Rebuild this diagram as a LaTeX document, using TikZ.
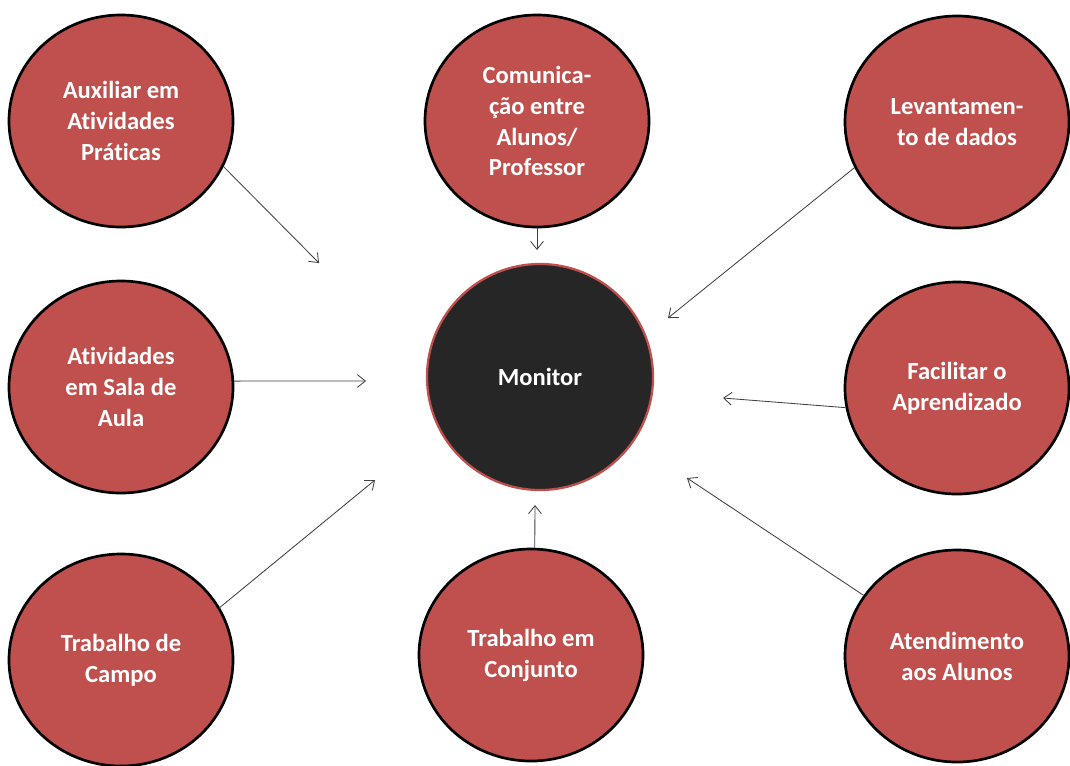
\documentclass[tikz,border=0pt]{standalone}
\usepackage{fontspec}
\usepackage{xcolor}
\usepackage{tikz}
\usetikzlibrary{arrows.meta,shapes.geometric}
\newfontfamily\lblfont{Carlito}[Ligatures=NoCommon]
\definecolor{bubble}{RGB}{192,80,77}
\definecolor{core}{RGB}{38,38,38}
\definecolor{wire}{RGB}{64,64,64}

\begin{document}
\begin{tikzpicture}[
  x=0.025cm, y=-0.025cm,
  task/.style={ellipse, draw=black, line width=1.9pt, fill=bubble, inner sep=0pt, minimum width=5.6cm, minimum height=5.3cm, align=center, text=white, font=\lblfont\bfseries\fontsize{17.5}{22}\selectfont},
  hub/.style={task, draw=bubble, line width=1.6pt, fill=core, minimum width=5.65cm, minimum height=5.65cm},
  arr/.style={-{Straight Barb[length=2mm,width=3.2mm]}, draw=wire, line width=0.6pt}
]
\useasboundingbox (0,0) rectangle (1070,765);

\node[hub] (mon) at (540,377) {Monitor};

\node[task] (aux) at (121,121) {Auxiliar em\\Atividades\\Práticas};
\node[task] (com) at (537,121) {Comunica-\\ção entre\\Alunos/\\Professor};
\node[task] (lev) at (957,122) {Levantamen-\\to de dados};
\node[task] (ativ) at (121,387) {Atividades\\em Sala de\\Aula};
\node[task] (fac) at (957,388) {Facilitar o\\Aprendizado};
\node[task] (camp) at (121,660) {Trabalho de\\Campo};
\node[task] (conj) at (531,655) {Trabalho em\\Conjunto};
\node[task] (aten) at (957,656) {Atendimento\\aos Alunos};

\coordinate (paux) at (319,263);
\coordinate (pcom) at (537,250);
\coordinate (plev) at (668,318);
\coordinate (pativ) at (366,381);
\coordinate (pfac) at (723,398);
\coordinate (pcamp) at (375,480);
\coordinate (pconj) at (535,505);
\coordinate (paten) at (687,478);

\draw[arr] (aux.-24) -- (paux);
\draw[arr] (com) -- (pcom);
\draw[arr] (lev.-156) -- (plev);
\draw[arr] (ativ.3) -- (pativ);
\draw[arr] (fac.-170) -- (pfac);
\draw[arr] (camp.28) -- (pcamp);
\draw[arr] (conj.88) -- (pconj);
\draw[arr] (aten.147) -- (paten);
\end{tikzpicture}
\end{document}
